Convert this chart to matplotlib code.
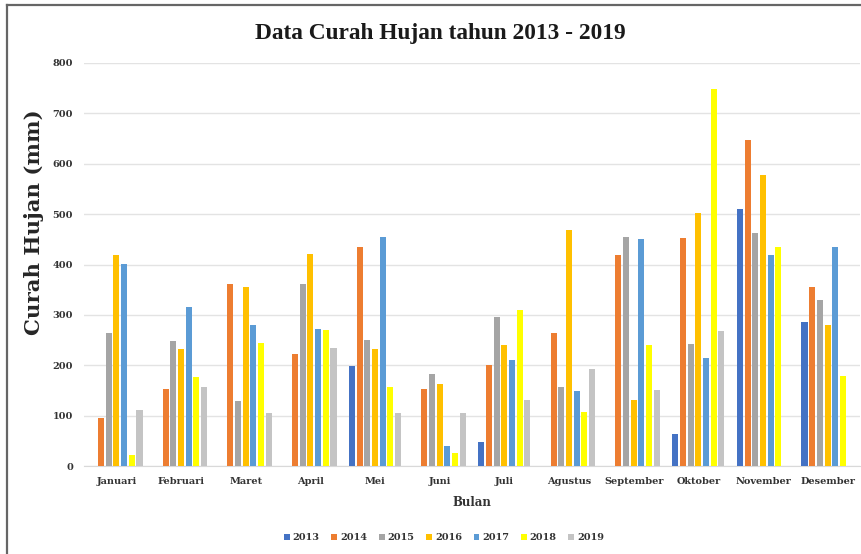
import matplotlib.pyplot as plt
import numpy as np
from matplotlib.lines import Line2D

# data
bulan = ['Januari', 'Februari', 'Maret', 'April', 'Mei', 'Juni', 'Juli',
         'Agustus', 'September', 'Oktober', 'November', 'Desember']
tahun = ['2013', '2014', '2015', '2016', '2017', '2018', '2019']

h2013 = [0, 0, 0, 0, 198, 0, 47, 0, 0, 63, 511, 285]
h2014 = [95, 153, 361, 222, 434, 153, 201, 265, 418, 452, 647, 356]
h2015 = [265, 248, 129, 362, 250, 182, 295, 156, 455, 242, 462, 329]
h2016 = [418, 233, 356, 420, 232, 162, 240, 468, 132, 503, 577, 279]
h2017 = [401, 316, 280, 271, 454, 40, 210, 149, 451, 214, 418, 434]
h2018 = [22, 176, 245, 270, 157, 25, 310, 108, 241, 749, 434, 179]
h2019 = [112, 157, 105, 235, 105, 106, 131, 193, 151, 269, 0, 0]

warna = ['#4472C4', '#ED7D31', '#A5A5A5', '#FFC000', '#5B9BD5', '#FFFF00', '#C4C4C4']

serif = 'DejaVu Serif'

fig = plt.figure(figsize=(8.61, 5.54), dpi=100)
ax = fig.add_axes([0.0976, 0.1588, 0.9012, 0.7275])

x = np.arange(len(bulan))
slot = 0.119
lebar = 0.095
semua = [h2013, h2014, h2015, h2016, h2017, h2018, h2019]
for i, (th, nilai) in enumerate(zip(tahun, semua)):
    ax.bar(x + (i - 3) * slot, nilai, lebar, color=warna[i], label=th, zorder=3)

ax.set_xlim(-0.5, len(bulan) - 0.5)
ax.set_ylim(0, 800)
ax.set_yticks(np.arange(0, 801, 100))
ax.set_xticks(x)
ax.set_xticklabels(bulan)
ax.grid(axis='y', color='#e3e3e3', linewidth=1, zorder=0)
for s in ['top', 'right', 'left']:
    ax.spines[s].set_visible(False)
ax.spines['bottom'].set_color('#d9d9d9')
ax.tick_params(length=0, pad=8)
for lbl in ax.get_xticklabels() + ax.get_yticklabels():
    lbl.set_fontfamily(serif)
    lbl.set_fontweight('bold')
    lbl.set_fontsize(7)
    lbl.set_color('#333333')

fig.text(34 / 861, 1 - 222 / 554, 'Curah Hujan (mm)', rotation=90,
         ha='center', va='center', fontfamily=serif, fontweight='bold',
         fontsize=15.3, color='#262626')
ax.set_xlabel('Bulan', fontfamily=serif, fontweight='bold', fontsize=8.5,
              color='#333333', labelpad=7)
fig.text(0.512, 0.94, 'Data Curah Hujan tahun 2013 - 2019',
         fontfamily='Liberation Serif', fontweight='bold', fontsize=16.8,
         ha='center', va='center', color='#1a1a1a')

leg = ax.legend(loc='center', bbox_to_anchor=(0.464, -0.178), ncol=7,
                frameon=False, handlelength=0.6, handleheight=0.6,
                handletextpad=0.3, columnspacing=1.2,
                prop={'family': serif, 'weight': 'bold', 'size': 7})
for t in leg.get_texts():
    t.set_color('#333333')

# frame around the picture
fig.add_artist(Line2D([0.0081, 0.0081], [0, 0.991], color='#666666', linewidth=1.6))
fig.add_artist(Line2D([0.0081, 1.0], [0.991, 0.991], color='#666666', linewidth=1.6))

fig.savefig('out.png', dpi=100)
